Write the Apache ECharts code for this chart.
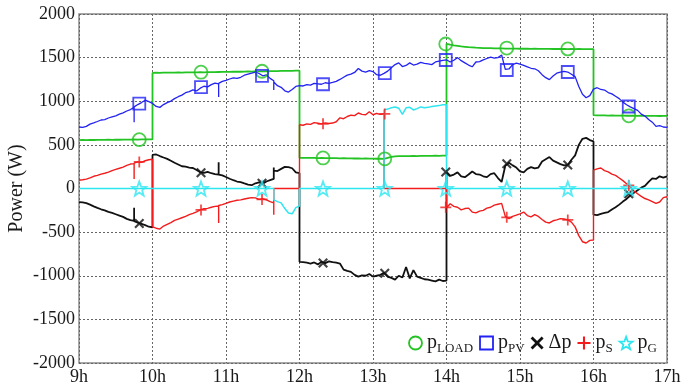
<!DOCTYPE html>
<html>
<head>
<meta charset="utf-8">
<title>Power flows</title>
<script src="https://cdn.jsdelivr.net/npm/echarts@6/dist/echarts.min.js"></script>
<style>
	html, body { margin: 0; padding: 0; background: #fff; }
	#power-chart { width: 682px; height: 390px; }
</style>
</head>
<body>
<div id="power-chart"></div>
<script>
	"use strict";

	// ______________ SAMPLE GRID (every 3 min, switching instants listed 3 times)
	var jumpHours = [9.75, 10, 10.9, 11.65, 12, 13.15, 14, 16];
	var hours = [];
	for (var i = 0; i <= 160; i++) {
		var t = Math.round((9 + i * 0.05) * 100) / 100;
		var n = jumpHours.indexOf(t) > -1 ? 3 : 1;
		for (var k = 0; k < n; k++) hours.push(t);
	}

	// ______________ SERIES VALUES (W), one row per hour
	var pLoad = [
		555,556,555,557,556,558,557,558,559,558,560,559,561,560,561, 562,562,562, 561,562,563,562,
		562,1325,1325, 1327,1326,1328,1327,1329,1328,1330,1329,1331,1330,1332,1331,1333,1332,1334,1333,1334, 1335,1335,1335, 1336,
		1337,1336,1338,1339,1338,1340,1341,1340,1342,1343,1342,1344,1345, 1345,1345,1345, 1346,1347,1348,1347,1349,1350,
		1350,352,352, 351,352,350,351,349,350,348,349,347,348,346,347,345,346,344,345,343,344,342,
		343,341,342, 340,340,340, 352,362,368,370,371,372,371,373,372,374,373,375,374,376,375,377,
		378,1658,1658, 1648,1640,1634,1628,1624,1620,1617,1614,1612,1610,1609,1608,1607,1606,1605,1604,1604,1603,1603,
		1602,1603,1602,1601,1602,1601,1600,1601,1600,1599,1600,1599,1600,1598,1599,1598,1599,1598,1597,1598,
		1597,840,840, 838,837,838,836,837,835,836,835,834,835,834,833,834,833,832,833,832,831,832,
		832
	];
	var pPv = [
		705,700,712,738,752,768,785,790,808,822,833,852,866,888,905, 930,760,935, 962,985,1012,995,
		975,975,975, 940,930,962,985,1002,1030,1052,1070,1098,1110,1130,1118,1150,1172,1165,1190,1208, 1200,1050,1205, 1228,
		1240,1255,1268,1262,1275,1298,1310,1322,1335,1318,1292,1302,1262, 1235,1130,1220, 1178,1160,1120,1105,1135,1170,
		1180,1180,1180, 1175,1190,1185,1205,1200,1195,1212,1205,1215,1228,1250,1275,1300,1310,1330,1375,1345,1335,1350,
		1340,1305,1298, 1320,1320,1320, 1345,1385,1420,1440,1398,1410,1440,1415,1425,1445,1435,1428,1420,1450,1460,1468,
		1475,1475,1475, 1450,1470,1500,1465,1440,1415,1395,1450,1455,1475,1490,1505,1495,1500,1530,1365,1370,1420,1438,
		1425,1412,1395,1378,1372,1350,1305,1270,1248,1290,1322,1335,1342,1335,1310,1282,1170,1080,1040,1065,
		1140,1140,1140, 1155,1135,1128,1100,1085,1058,1030,990,960,935,915,895,852,830,790,760,712,720,705,
		700
	];
	var deltaP = [
		-155,-160,-168,-185,-205,-222,-238,-250,-268,-280,-295,-310,-325,-348,-362, -372,-220,-375, -392,-405,-420,-438,
		-445,385,385, 390,372,355,340,318,295,275,255,250,240,235,212,185,178,190,175,165, 160,300,160, 150,
		132,112,95,80,72,58,45,38,60,70,55,80,95, 110,240,205, 200,225,248,245,232,185,
		175,-840,-840, -845,-850,-860,-848,-870,-840,-855,-835,-845,-850,-860,-930,-945,-955,-990,-1010,-995,-1000,-980,
		-1010,-1000,-990, -965,-965,-965, -1010,-1025,-1045,-1000,-1020,-900,-1030,-935,-1010,-1025,-1040,-1045,-1055,-1065,-1045,-1060,
		-1055,190,190, 145,160,185,140,130,160,195,165,160,140,130,165,175,120,75,260,295,265,240,
		195,185,225,245,230,240,310,335,360,320,300,280,265,270,330,380,500,570,580,555,
		540,-300,-300, -305,-290,-280,-270,-240,-215,-185,-150,-120,-80,-50,-20,10,30,75,115,110,140,125,
		140
	];
	var pS = [
		95,100,108,122,140,150,165,175,188,205,220,232,245,265,280, 285,110,290, 305,300,318,330,
		335,-440,-440, -455,-465,-430,-410,-390,-365,-350,-335,-320,-300,-285,-268,-245,-232,-228,-215,-205, -200,-395,-195, -185,
		-170,-155,-145,-135,-130,-120,-112,-105,-108,-125,-118,-130,-150, -165,-300,0, 0,0,0,0,0,0,
		0,730,730, 725,740,735,755,748,740,752,745,750,765,810,800,825,840,835,865,850,845,880,
		845,860,850, 855,855,0, 0,0,0,0,0,0,0,0,0,0,0,0,0,0,0,0,
		0,-220,-220, -175,-205,-215,-245,-230,-225,-270,-280,-260,-250,-225,-215,-190,-180,-170,-320,-345,-320,-305,
		-290,-270,-310,-325,-300,-320,-355,-385,-395,-370,-360,-345,-350,-360,-385,-440,-540,-610,-625,-595,
		-590,210,210, 225,235,205,190,165,150,120,90,55,20,-30,-60,-90,-115,-130,-150,-170,-155,-105,
		-95
	];
	var pG = [
		0,0,0,0,0,0,0,0,0,0,0,0,0,0,0, 0,0,0, 0,0,0,0,
		0,0,0, 0,0,0,0,0,0,0,0,0,0,0,0,0,0,0,0,0, 0,0,0, 0,
		0,0,0,0,0,0,0,0,0,0,0,0,0, 0,0,-130, -150,-165,-230,-280,-290,-220,
		-200,0,0, 0,0,0,0,0,0,0,0,0,0,0,0,0,0,0,0,0,0,0,
		0,0,0, 0,0,900, 910,925,935,920,850,925,930,900,915,935,925,930,940,945,950,960,
		960,0,0, 0,0,0,0,0,0,0,0,0,0,0,0,0,0,0,0,0,0,0,
		0,0,0,0,0,0,0,0,0,0,0,0,0,0,0,0,0,0,0,0,
		0,0,0, 0,0,0,0,0,0,0,0,0,0,0,0,0,0,0,0,0,0,0,
		0
	];

	// ______________ MARKERS (every 50 min)
	var markHours = [9.82, 10.66, 11.49, 12.32, 13.16, 13.99, 14.82, 15.65, 16.48];
	var loadMarks = [560, 1333, 1344, 350, 340, 1656, 1610, 1600, 833];
	var pvMarks = [972, 1162, 1290, 1195, 1322, 1473, 1358, 1335, 940];
	var dpMarks = [-400, 180, 60, -855, -970, 190, 285, 270, -60];
	var sMarks = [305, -245, -125, 742, 855, -215, -330, -360, 35];
	var gMarks = [0, 0, 0, 0, 0, 0, 0, 0, 0];

	var yTicks = [-2000, -1500, -1000, -500, 0, 500, 1000, 1500, 2000];

	var subName = { pLOAD: 'LOAD', pPV: 'PV', pS: 'S', pG: 'G' };

	var SERIF = '"Liberation Serif", "DejaVu Serif", serif';
	var GREEN = '#22c322', BLUE = '#2222f5', BLACK = '#111', RED = '#f21c1c', CYAN = '#2ee6f0';

	var ICON_X = 'path://M1.5,0L5,3.5L8.5,0L10,1.5L6.5,5L10,8.5L8.5,10L5,6.5L1.5,10L0,8.5L3.5,5L0,1.5Z';
	var ICON_PLUS = 'path://M4.2,0H5.8V4.2H10V5.8H5.8V10H4.2V5.8H0V4.2H4.2Z';
	var ICON_STAR = 'path://M10,0L12.47,6.6L19.51,6.91L13.99,11.3L15.88,18.09L10,14.2L4.12,18.09L6.01,11.3L0.49,6.91L7.53,6.6Z';

	var NONE = 'rgba(0,0,0,0)';

	function pairs(xs, ys) {
		if (xs.length !== ys.length) console.warn('length mismatch', xs.length, ys.length);
		return xs.map(function(x, i) { return [x, ys[i]]; });
	}

	var defs = [
		{ name: 'pLOAD', color: GREEN, width: 1.8, vals: pLoad, marks: loadMarks, icon: 'circle', size: 13, mark: { color: NONE, borderColor: GREEN, borderWidth: 1.8 } },
		{ name: 'pPV', color: BLUE, width: 1.3, vals: pPv, marks: pvMarks, icon: 'rect', size: 12, mark: { color: NONE, borderColor: BLUE, borderWidth: 1.8 } },
		{ name: 'Δp', color: BLACK, width: 1.8, vals: deltaP, marks: dpMarks, icon: ICON_X, size: 10, mark: { color: BLACK } },
		{ name: 'pS', color: RED, width: 1.4, vals: pS, marks: sMarks, icon: ICON_PLUS, size: 11, mark: { color: RED } },
		{ name: 'pG', color: CYAN, width: 1.5, vals: pG, marks: gMarks, icon: ICON_STAR, size: 14, mark: { color: NONE, borderColor: CYAN, borderWidth: 1.8 } }
	];

	var series = [];
	defs.forEach(function(d) {
		series.push({
			name: d.name,
			type: 'line',
			data: pairs(hours, d.vals),
			showSymbol: false,
			symbol: 'none',
			lineStyle: { color: d.color, width: d.width },
			itemStyle: { color: d.color },
			emphasis: { disabled: true }
		});
	});
	defs.forEach(function(d) {
		series.push({
			name: d.name,
			type: 'scatter',
			data: pairs(markHours, d.marks),
			symbol: d.icon,
			symbolSize: d.size,
			itemStyle: d.mark,
			z: 3,
			emphasis: { disabled: true }
		});
	});

	var chart = echarts.init(document.getElementById('power-chart'), null, { renderer: 'canvas' });
	chart.setOption({
		animation: false,
		textStyle: { fontFamily: SERIF },
		grid: {
			left: 79, right: 15, top: 14, bottom: 27,
			outerBoundsMode: 'none', containLabel: false,
			show: true, borderColor: '#8a8a8a', borderWidth: 1.5, backgroundColor: '#fff'
		},
		xAxis: {
			type: 'value', min: 9, max: 17, interval: 1,
			axisLine: { show: false },
			axisTick: { show: false },
			axisLabel: { margin: 5, color: '#1a1a1a', fontSize: 18, fontFamily: SERIF, formatter: function(v) { return v + 'h'; } },
			splitLine: { show: true, lineStyle: { color: '#666', width: 1, type: [2, 2] } }
		},
		yAxis: {
			type: 'value', min: yTicks[0], max: yTicks[yTicks.length - 1], interval: 500,
			name: 'Power (W)', nameLocation: 'middle', nameGap: 52, nameMoveOverlap: false,
			nameTextStyle: { fontSize: 20, color: '#1a1a1a', fontFamily: SERIF },
			axisLine: { show: false },
			axisTick: { show: false },
			axisLabel: { margin: 4, color: '#1a1a1a', fontSize: 18, fontFamily: SERIF, formatter: function(v) { return String(v); } },
			splitLine: { show: true, lineStyle: { color: '#666', width: 1, type: [2, 2] } }
		},
		legend: {
			right: 20, bottom: 30, itemGap: 6, itemWidth: 13, itemHeight: 13,
			selectedMode: false,
			data: defs.map(function(d) {
				return { name: d.name, icon: d.icon, itemStyle: d.mark };
			}),
			formatter: function(name) {
				if (subName[name]) return '{m|p}{s|' + subName[name] + '}';
				return '{m|' + name + '}';
			},
			textStyle: {
				fontFamily: SERIF, color: '#1a1a1a',
				rich: {
					m: { fontSize: 20, lineHeight: 24, fontFamily: SERIF, color: '#1a1a1a' },
					s: { fontSize: 13, lineHeight: 13, verticalAlign: 'bottom', fontFamily: SERIF, color: '#1a1a1a' }
				}
			}
		},
		series: series
	});
</script>
</body>
</html>
